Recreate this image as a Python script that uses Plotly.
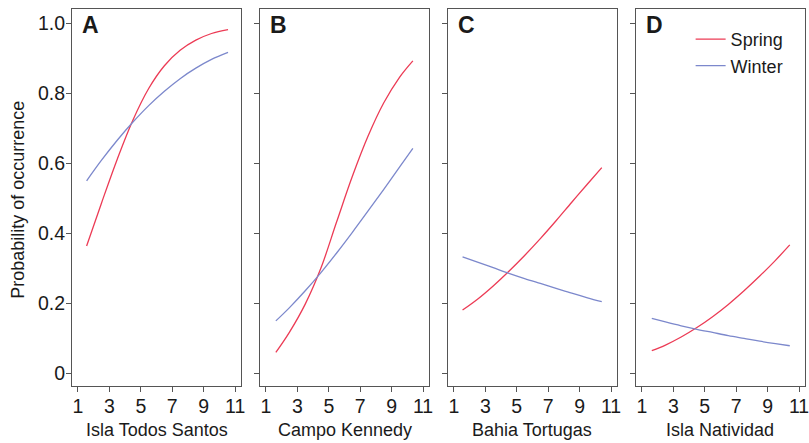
import plotly.graph_objects as go
from plotly.subplots import make_subplots

# Site names (x-axis titles) and panel letters
sites = ["Isla Todos Santos", "Campo Kennedy", "Bahia Tortugas", "Isla Natividad"]
letters = ["A", "B", "C", "D"]

# Month-like predictor values for each site's fitted curve
x_A = [1.55, 2.5, 3.5, 4.5, 5.5, 6.5, 7.5, 8.5, 9.5, 10.55]
x_B = [1.63, 2.5, 3.5, 4.5, 5.5, 6.5, 7.5, 8.5, 9.5, 10.35]
x_C = [1.55, 2.5, 3.5, 4.5, 5.5, 6.5, 7.5, 8.5, 9.5, 10.41]
x_D = [1.63, 2.5, 3.5, 4.5, 5.5, 6.5, 7.5, 8.5, 9.5, 10.41]

# Probability of occurrence, spring season
spring_A = [0.364, 0.487, 0.612, 0.724, 0.814, 0.879, 0.923, 0.952, 0.971, 0.982]
spring_B = [0.060, 0.118, 0.198, 0.301, 0.433, 0.563, 0.678, 0.773, 0.846, 0.893]
spring_C = [0.181, 0.212, 0.250, 0.292, 0.337, 0.385, 0.436, 0.489, 0.541, 0.588]
spring_D = [0.065, 0.081, 0.104, 0.131, 0.162, 0.197, 0.236, 0.278, 0.323, 0.367]

# Probability of occurrence, winter season
winter_A = [0.550, 0.609, 0.666, 0.718, 0.765, 0.806, 0.842, 0.872, 0.897, 0.917]
winter_B = [0.150, 0.188, 0.236, 0.288, 0.344, 0.403, 0.464, 0.526, 0.589, 0.643]
winter_C = [0.333, 0.318, 0.302, 0.286, 0.271, 0.257, 0.243, 0.229, 0.216, 0.205]
winter_D = [0.157, 0.147, 0.136, 0.126, 0.117, 0.108, 0.100, 0.092, 0.085, 0.079]

# Axis ticks
x_ticks = [1, 3, 5, 7, 9, 11]
y_ticks = [0, 0.2, 0.4, 0.6, 0.8, 1.0]
y_tick_text = ["0", "0.2", "0.4", "0.6", "0.8", "1.0"]

xs = [x_A, x_B, x_C, x_D]
springs = [spring_A, spring_B, spring_C, spring_D]
winters = [winter_A, winter_B, winter_C, winter_D]

RED = "#EC3B55"
BLUE = "#7C88CC"
FONT = "Liberation Sans, Arial, sans-serif"
TEXT = "#1a1a1a"
AXIS = "#555555"

W, H = 809, 443
ML, MR, MT, MB = 72, 0, 9, 57
pw = W - ML - MR
panel_w, gap = 170, 19

fig = make_subplots(rows=1, cols=4)

for i in range(4):
    fig.add_trace(go.Scatter(
        x=xs[i], y=springs[i], mode="lines", name="Spring",
        line=dict(color=RED, width=1.3, shape="spline", smoothing=1.0),
        showlegend=(i == 3), hoverinfo="skip"), row=1, col=i + 1)
    fig.add_trace(go.Scatter(
        x=xs[i], y=winters[i], mode="lines", name="Winter",
        line=dict(color=BLUE, width=1.3, shape="spline", smoothing=1.0),
        showlegend=(i == 3), hoverinfo="skip"), row=1, col=i + 1)

axis_common = dict(showline=True, mirror=True, linecolor=AXIS, linewidth=1,
                   showgrid=False, zeroline=False, ticks="outside", ticklen=5,
                   tickcolor=AXIS, tickwidth=1, ticklabeloverflow="allow",
                   tickfont=dict(family=FONT, size=19.5, color=TEXT))

for i in range(4):
    x0 = (i * (panel_w + gap)) / pw
    x1 = (i * (panel_w + gap) + panel_w) / pw
    suffix = "" if i == 0 else str(i + 1)
    fig.layout["xaxis" + suffix].update(
        domain=[x0, min(x1, 1.0)], range=[0.62, 11.38],
        tickvals=x_ticks, ticklabelstandoff=-2, **axis_common)
    fig.layout["yaxis" + suffix].update(
        domain=[0, 1], range=[-0.036, 1.041],
        tickvals=y_ticks, ticktext=y_tick_text, ticklabelstandoff=-3,
        showticklabels=(i == 0), **axis_common)

annotations = []
for i in range(4):
    suffix = "" if i == 0 else str(i + 1)
    # panel letter
    annotations.append(dict(
        text="<b>%s</b>" % letters[i], xref="x%s domain" % suffix,
        yref="y%s domain" % suffix, x=8 / panel_w, y=(386 - 25.5) / 377,
        xanchor="left", yanchor="middle", showarrow=False,
        font=dict(family=FONT, size=23, color=TEXT)))
    # site name under each panel
    annotations.append(dict(
        text=sites[i], xref="x%s domain" % suffix, yref="paper",
        x=0.5, y=(386 - 430) / 377, xanchor="center", yanchor="middle",
        showarrow=False, font=dict(family=FONT, size=18, color=TEXT)))

annotations.append(dict(
    text="Probability of occurrence", xref="paper", yref="paper",
    x=(17.5 - ML) / pw, y=(386 - 200) / 377, textangle=-90,
    xanchor="center", yanchor="middle", showarrow=False,
    font=dict(family=FONT, size=18, color=TEXT)))

fig.update_layout(
    width=W, height=H,
    margin=dict(l=ML, r=MR, t=MT, b=MB, pad=0),
    paper_bgcolor="white", plot_bgcolor="white",
    annotations=annotations,
    legend=dict(x=(694 - ML) / pw, y=(386 - 21) / 377, xanchor="left",
                yanchor="top", bgcolor="rgba(0,0,0,0)",
                font=dict(family=FONT, size=18, color=TEXT),
                tracegroupgap=0),
)

fig.write_html("out.html")
